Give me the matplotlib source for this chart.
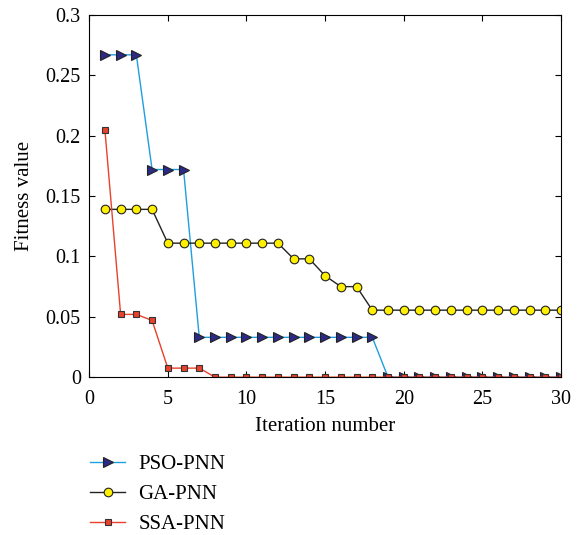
import matplotlib.pyplot as plt
import numpy as np

iterations = np.arange(1, 31)

pso = [0.267, 0.267, 0.267, 0.172, 0.172, 0.172] + [0.033] * 12 + [0.0] * 12
ga = [0.139] * 4 + [0.111] * 8 + [0.098, 0.098, 0.084, 0.075, 0.075] + [0.0555] * 13
ssa = [0.205, 0.052, 0.052, 0.047, 0.0075, 0.0075, 0.0075] + [0.0] * 23

plt.rcParams['font.family'] = ['Liberation Serif', 'DejaVu Serif']

fig = plt.figure(figsize=(5.79, 5.35), dpi=100)
ax = fig.add_axes([0.154, 0.295, 0.815, 0.677])

ax.plot(iterations, pso, color='#1d9fe0', lw=1.0, marker='>', ms=7.5,
        mfc='#2b2a85', mec='#222222', mew=0.8, label='PSO-PNN')
ax.plot(iterations, ga, color='#222222', lw=1.0, marker='o', ms=6.2,
        mfc='#fff000', mec='#222222', mew=0.8, label='GA-PNN')
ax.plot(iterations, ssa, color='#e8412c', lw=1.0, marker='s', ms=5,
        mfc='#e8412c', mec='#333333', mew=0.8, label='SSA-PNN')

ax.set_xlim(0, 30)
ax.set_ylim(0, 0.3)
ax.set_xticks([0, 5, 10, 15, 20, 25, 30])
ax.set_yticks([0, 0.05, 0.1, 0.15, 0.2, 0.25, 0.3])
ax.set_yticklabels(['0', '0.05', '0.1', '0.15', '0.2', '0.25', '0.3'])
ax.tick_params(direction='in', top=True, right=True, labelsize=14.5, length=4, pad=6)
ax.tick_params(axis='x', pad=9)
ax.set_xlabel('Iteration number', fontsize=15, labelpad=6)
ax.set_ylabel('Fitness value', fontsize=15, labelpad=8)

ax.legend(loc='upper left', bbox_to_anchor=(-0.015, -0.19), borderaxespad=0,
          frameon=False, fontsize=15, handlelength=1.65, handletextpad=0.65,
          labelspacing=0.5)

fig.savefig('out.png', dpi=100)
